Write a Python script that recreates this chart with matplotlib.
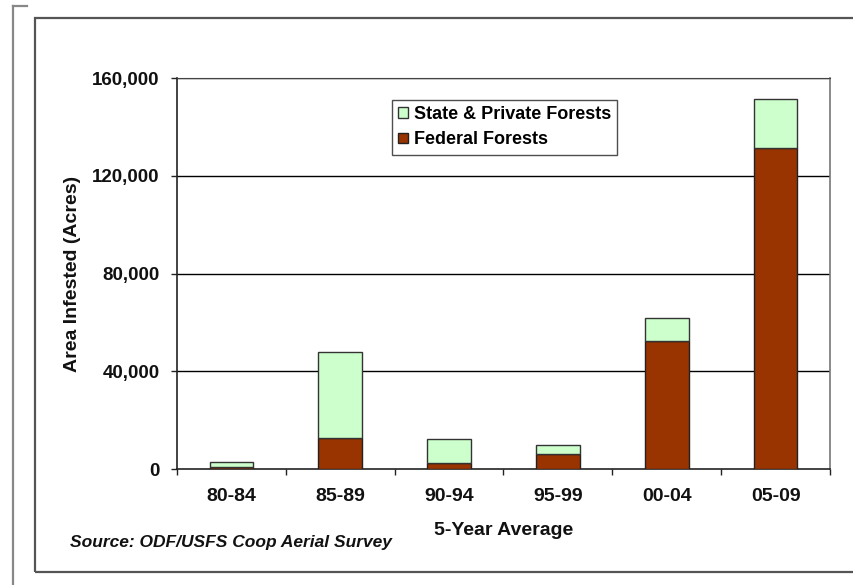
import matplotlib
matplotlib.use("Agg")
import matplotlib.pyplot as plt
from matplotlib.patches import Rectangle
from matplotlib.lines import Line2D
from matplotlib.ticker import FuncFormatter

plt.rcParams['font.family'] = ['Liberation Sans', 'DejaVu Sans']

categories = ["80-84", "85-89", "90-94", "95-99", "00-04", "05-09"]
federal = [700, 12600, 2300, 6000, 52500, 131500]
state_private = [2300, 35400, 9900, 4000, 9300, 19800]
yticks = [0, 40000, 80000, 120000, 160000]

W, H = 854, 585
fig = plt.figure(figsize=(W / 100, H / 100), dpi=100)

# frames
fig.add_artist(Line2D([13 / W, 13 / W], [0, 1 - 6 / H], color="#888888", lw=1.6))
fig.add_artist(Line2D([13 / W, 27 / W], [1 - 6 / H, 1 - 6 / H], color="#888888", lw=1.6))
fig.add_artist(Rectangle((35 / W, 1 - 572 / H), 1, (572 - 18) / H, fill=False,
                         edgecolor="#555555", lw=1.6))

left, right, top, bottom = 177, 830, 78, 469
ax = fig.add_axes([left / W, 1 - bottom / H, (right - left) / W, (bottom - top) / H])

x = list(range(len(categories)))
bw = 0.4
ax.bar(x, federal, width=bw, color="#993300", edgecolor="#222222", lw=1.0,
       label="Federal Forests", zorder=3)
ax.bar(x, state_private, width=bw, bottom=federal, color="#CCFFCC", edgecolor="#333333",
       lw=1.0, label="State & Private Forests", zorder=3)

ax.set_xlim(-0.5, len(categories) - 0.5)
ax.set_ylim(0, 160000)
ax.set_yticks(yticks)
ax.yaxis.set_major_formatter(FuncFormatter(lambda v, p: f"{int(v):,}"))
for y in yticks[1:]:
    ax.axhline(y, color="black", lw=1.0, zorder=1)

ax.set_xticks(x)
ax.set_xticklabels(categories, fontsize=14, fontweight="bold", color="#111111")
ax.tick_params(axis="x", length=0, pad=14)
ax.set_xticks([i - 0.5 for i in range(len(categories) + 1)], minor=True)
ax.tick_params(axis="x", which="minor", length=4, color="#222222", width=1)
ax.tick_params(axis="y", length=4.5, color="#222222", width=1, labelsize=13.5, pad=8)
for t in ax.get_yticklabels():
    t.set_fontweight("bold")
    t.set_color("#111111")

for s in ["left", "bottom"]:
    ax.spines[s].set_color("#222222")
    ax.spines[s].set_linewidth(1.2)
ax.spines["top"].set_color("#444444")
ax.spines["right"].set_color("#777777")
ax.spines["right"].set_linewidth(1.2)

ax.set_ylabel("Area Infested (Acres)", fontsize=14, fontweight="bold", labelpad=8,
              color="#111111")
ax.set_xlabel("5-Year Average", fontsize=14, fontweight="bold", labelpad=12, color="#111111")

handles, labels = ax.get_legend_handles_labels()
leg = ax.legend(handles[::-1], labels[::-1], loc="upper left",
                bbox_to_anchor=((392 - left) / (right - left), (bottom - 100) / (bottom - top)),
                fontsize=13, frameon=True, fancybox=False, edgecolor="#222222",
                handlelength=0.55, handleheight=0.55, handletextpad=0.3, borderpad=0.35,
                labelspacing=0.45, borderaxespad=0)
for t in leg.get_texts():
    t.set_fontweight("bold")
leg.get_frame().set_linewidth(1.0)

fig.text(70 / W, 1 - 542 / H, "Source: ODF/USFS Coop Aerial Survey", fontsize=12.5,
         fontweight="bold", style="italic", va="center", ha="left", color="#111111")

fig.savefig("out.png", dpi=100)
